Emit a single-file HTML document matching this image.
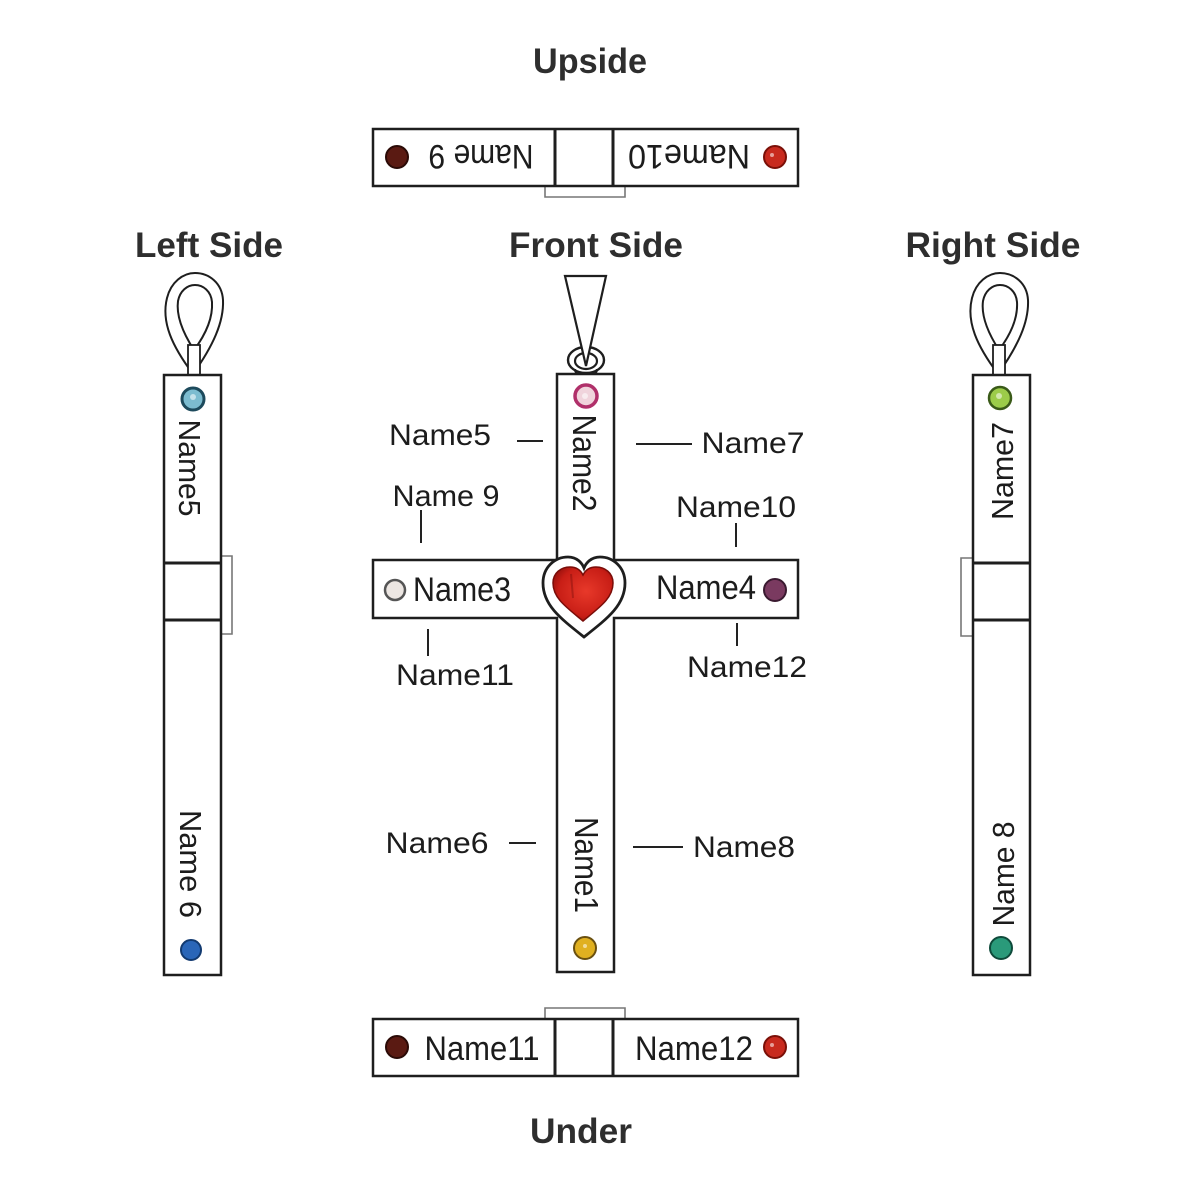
<!DOCTYPE html>
<html>
<head>
<meta charset="utf-8">
<style>
  html,body{margin:0;padding:0;background:#fff;}
  svg{display:block;}
  .t{font-family:"Liberation Sans",sans-serif;font-weight:bold;fill:#2e2e2e;}
  .l{font-family:"Liberation Sans",sans-serif;fill:#1c1c1c;}
</style>
</head>
<body>
<svg width="1200" height="1200" viewBox="0 0 1200 1200" xmlns="http://www.w3.org/2000/svg">
  <defs>
    <radialGradient id="heartG" cx="0.55" cy="0.45" r="0.65">
      <stop offset="0" stop-color="#e8392a"/>
      <stop offset="0.7" stop-color="#c81e16"/>
      <stop offset="1" stop-color="#8c0e0a"/>
    </radialGradient>
  </defs>
  <rect width="1200" height="1200" fill="#fff"/>

  <!-- Titles -->
  <text class="t" x="590" y="73" font-size="35" text-anchor="middle" textLength="114" lengthAdjust="spacingAndGlyphs">Upside</text>
  <text class="t" x="209" y="257" font-size="35" text-anchor="middle" textLength="148" lengthAdjust="spacingAndGlyphs">Left Side</text>
  <text class="t" x="596" y="257" font-size="35" text-anchor="middle" textLength="174" lengthAdjust="spacingAndGlyphs">Front Side</text>
  <text class="t" x="993" y="257" font-size="35" text-anchor="middle" textLength="175" lengthAdjust="spacingAndGlyphs">Right Side</text>
  <text class="t" x="581" y="1143" font-size="35" text-anchor="middle" textLength="102" lengthAdjust="spacingAndGlyphs">Under</text>

  <g fill="none" stroke="#1e1e1e" stroke-width="2.5">
    <!-- Upside bar -->
    <path d="M545,186 L545,197 L625,197 L625,186" stroke="#777" stroke-width="1.6"/>
    <rect x="373" y="129" width="425" height="57" fill="#fff"/>
    <line x1="555" y1="129" x2="555" y2="186" stroke-width="3"/>
    <line x1="613" y1="129" x2="613" y2="186" stroke-width="3"/>

    <!-- Under bar -->
    <path d="M545,1019 L545,1008 L625,1008 L625,1019" stroke="#777" stroke-width="1.6"/>
    <rect x="373" y="1019" width="425" height="57" fill="#fff"/>
    <line x1="555" y1="1019" x2="555" y2="1076" stroke-width="3"/>
    <line x1="613" y1="1019" x2="613" y2="1076" stroke-width="3"/>

    <!-- Left side -->
    <path d="M193,374 C172,346 161,322 167,298 C171,282 183,273 195,273 C209,273 222,283 223,300 C224,322 213,346 193,374 Z" stroke-width="2"/>
    <path d="M194,350 C183,333 176,316 178,301 C180,291 187,285 195,285 C203,285 211,291 212,302 C213,318 206,334 194,350 Z" stroke-width="2"/>
    <rect x="188" y="345" width="12" height="30" fill="#fff" stroke-width="1.8"/>
    <path d="M221,556 L232,556 L232,634 L221,634" stroke="#777" stroke-width="1.6"/>
    <rect x="164" y="375" width="57" height="600" fill="#fff"/>
    <line x1="164" y1="563" x2="221" y2="563" stroke-width="3"/>
    <line x1="164" y1="620" x2="221" y2="620" stroke-width="3"/>

    <!-- Right side -->
    <path d="M998,374 C977,346 966,322 972,298 C976,282 988,273 1000,273 C1014,273 1027,283 1028,300 C1029,322 1018,346 998,374 Z" stroke-width="2"/>
    <path d="M999,350 C988,333 981,316 983,301 C985,291 992,285 1000,285 C1008,285 1016,291 1017,302 C1018,318 1011,334 999,350 Z" stroke-width="2"/>
    <rect x="993" y="345" width="12" height="30" fill="#fff" stroke-width="1.8"/>
    <path d="M973,558 L961,558 L961,636 L973,636" stroke="#777" stroke-width="1.6"/>
    <rect x="973" y="375" width="57" height="600" fill="#fff"/>
    <line x1="973" y1="563" x2="1030" y2="563" stroke-width="3"/>
    <line x1="973" y1="620" x2="1030" y2="620" stroke-width="3"/>

    <!-- Front bail -->
    <ellipse cx="586" cy="360" rx="18" ry="13" stroke-width="2.4"/>
    <ellipse cx="586" cy="361" rx="11" ry="8" stroke-width="2.2"/>
    <path d="M565,276 L606,276 L586,366 Z" fill="#fff" stroke-width="2.2"/>
    <path d="M575,369 A11,8 0 0 0 597,369" stroke-width="2.2"/>

    <!-- Cross -->
    <path d="M557,374 L614,374 L614,560 L798,560 L798,618 L614,618 L614,972 L557,972 L557,618 L373,618 L373,560 L557,560 Z" fill="#fff"/>
  </g>

  <!-- Heart -->
  <path d="M584,637 C560,618 543,605 543,583 C543,567 555,557 568,557 C577,557 582,563 584,568 C586,563 591,557 600,557 C613,557 625,567 625,583 C625,605 608,618 584,637 Z" fill="#fff" stroke="#1e1e1e" stroke-width="2.8"/>
  <path d="M583,621 C566,607 553,598 553,583 C553,573 561,567 570,567 C577,567 581,571 583,575 C585,571 589,567 596,567 C605,567 613,573 613,583 C613,598 600,607 583,621 Z" fill="url(#heartG)" stroke="#7a0c08" stroke-width="1.5"/>
  <path d="M571,574 L573,598" fill="none" stroke="#6a0a08" stroke-width="2" opacity="0.35"/>

  <!-- Gems -->
  <g>
    <circle cx="397" cy="157" r="11" fill="#5a1a12" stroke="#2a0a06" stroke-width="2"/>
    <circle cx="775" cy="157" r="11" fill="#c82a1e" stroke="#7a1008" stroke-width="2"/>
    <circle cx="193" cy="399" r="11" fill="#7cbcd0" stroke="#1d4a5c" stroke-width="3"/>
    <circle cx="191" cy="950" r="10" fill="#2a66b8" stroke="#123a70" stroke-width="2"/>
    <circle cx="586" cy="396" r="11" fill="#f0d4dc" stroke="#b0306a" stroke-width="3.5"/>
    <circle cx="585" cy="948" r="11" fill="#e0b020" stroke="#6a5010" stroke-width="2"/>
    <circle cx="395" cy="590" r="10" fill="#ece6e2" stroke="#555" stroke-width="2.5"/>
    <circle cx="775" cy="590" r="11" fill="#7a3a60" stroke="#3a1a30" stroke-width="2"/>
    <circle cx="1000" cy="398" r="11" fill="#9ccc4a" stroke="#3a5a18" stroke-width="2.5"/>
    <circle cx="1001" cy="948" r="11" fill="#2a9a7a" stroke="#0e4a3a" stroke-width="2"/>
    <circle cx="397" cy="1047" r="11" fill="#5a1a12" stroke="#2a0a06" stroke-width="2"/>
    <circle cx="775" cy="1047" r="11" fill="#c82a1e" stroke="#7a1008" stroke-width="2"/>
    <g fill="#fff" opacity="0.55">
      <circle cx="193" cy="397" r="3"/>
      <circle cx="585" cy="396" r="3"/>
      <circle cx="585" cy="946" r="2"/>
      <circle cx="999" cy="396" r="3"/>
      <circle cx="772" cy="1045" r="2"/>
      <circle cx="772" cy="155" r="2"/>
    </g>
  </g>

  <!-- Text in bars -->
  <text class="l" font-size="34" text-anchor="middle" textLength="105" lengthAdjust="spacingAndGlyphs" transform="translate(481,157) rotate(180)" x="0" y="12">Name 9</text>
  <text class="l" font-size="34" text-anchor="middle" textLength="122" lengthAdjust="spacingAndGlyphs" transform="translate(689,157) rotate(180)" x="0" y="12">Name10</text>
  <text class="l" x="482" y="1060" font-size="34" text-anchor="middle" textLength="115" lengthAdjust="spacingAndGlyphs">Name11</text>
  <text class="l" x="694" y="1060" font-size="34" text-anchor="middle" textLength="118" lengthAdjust="spacingAndGlyphs">Name12</text>
  <text class="l" x="462" y="601" font-size="34" text-anchor="middle" textLength="98" lengthAdjust="spacingAndGlyphs">Name3</text>
  <text class="l" x="706" y="599" font-size="34" text-anchor="middle" textLength="100" lengthAdjust="spacingAndGlyphs">Name4</text>

  <!-- Vertical texts -->
  <text class="l" font-size="33" text-anchor="middle" textLength="97" lengthAdjust="spacingAndGlyphs" transform="translate(585,463) rotate(90)" x="0" y="12">Name2</text>
  <text class="l" font-size="33" text-anchor="middle" textLength="96" lengthAdjust="spacingAndGlyphs" transform="translate(587,865) rotate(90)" x="0" y="12">Name1</text>
  <text class="l" font-size="31" text-anchor="middle" textLength="97" lengthAdjust="spacingAndGlyphs" transform="translate(190,468) rotate(90)" x="0" y="11">Name5</text>
  <text class="l" font-size="31" text-anchor="middle" textLength="108" lengthAdjust="spacingAndGlyphs" transform="translate(191,864) rotate(90)" x="0" y="11">Name 6</text>
  <text class="l" font-size="31" text-anchor="middle" textLength="98" lengthAdjust="spacingAndGlyphs" transform="translate(1002,471) rotate(-90)" x="0" y="11">Name7</text>
  <text class="l" font-size="31" text-anchor="middle" textLength="105" lengthAdjust="spacingAndGlyphs" transform="translate(1003,874) rotate(-90)" x="0" y="11">Name 8</text>

  <!-- Outer labels -->
  <text class="l" x="440" y="445" font-size="30" text-anchor="middle" textLength="102" lengthAdjust="spacingAndGlyphs">Name5</text>
  <text class="l" x="753" y="453" font-size="30" text-anchor="middle" textLength="103" lengthAdjust="spacingAndGlyphs">Name7</text>
  <text class="l" x="446" y="506" font-size="30" text-anchor="middle" textLength="107" lengthAdjust="spacingAndGlyphs">Name 9</text>
  <text class="l" x="736" y="517" font-size="30" text-anchor="middle" textLength="120" lengthAdjust="spacingAndGlyphs">Name10</text>
  <text class="l" x="455" y="685" font-size="30" text-anchor="middle" textLength="118" lengthAdjust="spacingAndGlyphs">Name11</text>
  <text class="l" x="747" y="677" font-size="30" text-anchor="middle" textLength="120" lengthAdjust="spacingAndGlyphs">Name12</text>
  <text class="l" x="437" y="853" font-size="30" text-anchor="middle" textLength="103" lengthAdjust="spacingAndGlyphs">Name6</text>
  <text class="l" x="744" y="857" font-size="30" text-anchor="middle" textLength="102" lengthAdjust="spacingAndGlyphs">Name8</text>

  <!-- Leader lines -->
  <g stroke="#222" stroke-width="2">
    <line x1="517" y1="441" x2="543" y2="441"/>
    <line x1="636" y1="444" x2="692" y2="444"/>
    <line x1="421" y1="510" x2="421" y2="543"/>
    <line x1="736" y1="523" x2="736" y2="547"/>
    <line x1="428" y1="629" x2="428" y2="656"/>
    <line x1="737" y1="623" x2="737" y2="646"/>
    <line x1="509" y1="843" x2="536" y2="843"/>
    <line x1="633" y1="847" x2="683" y2="847"/>
  </g>
</svg>
</body>
</html>
